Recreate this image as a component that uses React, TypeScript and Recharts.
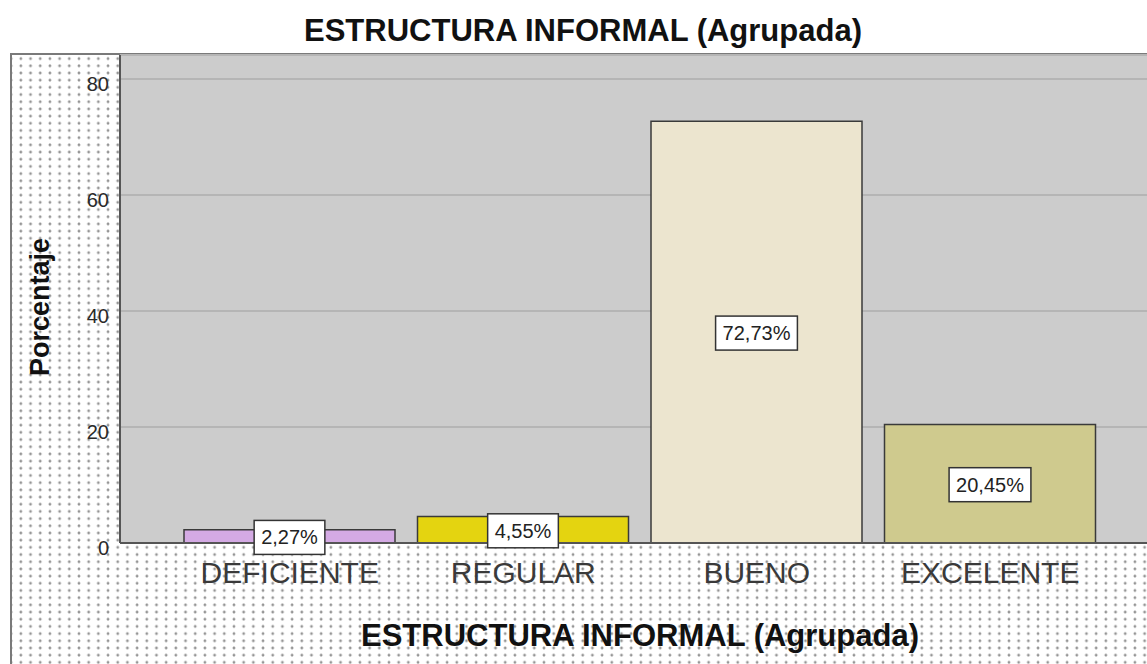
import React from "react";
import { BarChart, Bar, XAxis, YAxis, CartesianGrid, Cell, LabelList } from "recharts";

const categories = ["DEFICIENTE", "REGULAR", "BUENO", "EXCELENTE"];
const percentages = [2.27, 4.55, 72.73, 20.45];
const barColors = ["#d4aae4", "#e4d410", "#ece5cf", "#cfca8e"];
const yTicks = [0, 20, 40, 60, 80];
const chartTitle = "ESTRUCTURA INFORMAL (Agrupada)";
const xTitle = "ESTRUCTURA INFORMAL (Agrupada)";
const yTitle = "Porcentaje";

const fmt = (v: number) => v.toFixed(2).replace(".", ",") + "%";

const data = categories.map((c, i) => ({ name: c, value: percentages[i], label: fmt(percentages[i]) }));

const FONT = "'Liberation Sans', Arial, sans-serif";

const charW = (ch: string) => {
  if (ch === ",") return 0.278;
  if (ch === "%") return 0.889;
  return 0.556;
};

const YTick = (props: any) => {
  const { x, y, payload } = props;
  return (
    <text x={x} y={y} dy={11.5} textAnchor="end" fontSize={20} fill="#2a2a2a" fontFamily={FONT}>
      {payload.value}
    </text>
  );
};

const XTick = (props: any) => {
  const { x, y, payload } = props;
  return (
    <text x={x} y={y} dy={40} textAnchor="middle" fontSize={30} fill="#3a3a3a" fontFamily={FONT}>
      {payload.value}
    </text>
  );
};

const ValueLabel = (props: any) => {
  const { x, y, width, height, value } = props;
  const cx = Number(x) + Number(width) / 2;
  const cy = Number(y) + Number(height) / 2 + 1;
  const txt = String(value);
  const fs = 20;
  const tw = txt.split("").reduce((s, ch) => s + charW(ch), 0) * fs;
  const w = tw + 14;
  const h = 34;
  return (
    <g>
      <rect x={cx - w / 2} y={cy - h / 2} width={w} height={h} fill="#ffffff" stroke="#333" strokeWidth={1.5} />
      <text x={cx} y={cy} dy={7} textAnchor="middle" fontSize={fs} fill="#222" fontFamily={FONT}>
        {txt}
      </text>
    </g>
  );
};

export default function App() {
  return (
    <div
      style={{
        position: "fixed",
        left: 0,
        top: 0,
        width: 1147,
        height: 664,
        overflow: "hidden",
        background: "#ffffff",
        fontFamily: FONT,
      }}
    >
      <div
        style={{
          position: "absolute",
          left: 10,
          top: 53,
          width: 1300,
          height: 700,
          borderLeft: "2px solid #7a7a7a",
          borderTop: "2px solid #7a7a7a",
          backgroundImage: "radial-gradient(circle, #959595 1.1px, rgba(255,255,255,0) 1.7px)",
          backgroundSize: "9.7px 7.2px",
          backgroundPosition: "4px 0px",
        }}
      />
      <div
        style={{
          position: "absolute",
          left: 0,
          top: 15,
          width: 1166,
          textAlign: "center",
          fontSize: 31,
          lineHeight: "31px",
          fontWeight: "bold",
          color: "#111",
        }}
      >
        {chartTitle}
      </div>
      <div style={{ position: "absolute", left: 0, top: 0 }}>
        <BarChart
          width={1200}
          height={664}
          data={data}
          margin={{ top: 55, right: 40, left: 0, bottom: 0 }}
        >
          <CartesianGrid
            vertical={false}
            horizontal={true}
            fill="#cccccc"
            stroke="#b5b5b5"
            strokeWidth={2}
            fillOpacity={1}
          />
          <XAxis
            dataKey="name"
            height={121}
            padding={{ left: 53, right: 53 }}
            tickLine={false}
            tickSize={0}
            tickMargin={0}
            axisLine={{ stroke: "#555", strokeWidth: 2 }}
            tick={<XTick />}
            interval={0}
          />
          <YAxis
            width={120}
            domain={[0, 84.14]}
            ticks={yTicks}
            allowDataOverflow={true}
            tickLine={false}
            tickSize={0}
            tickMargin={11}
            axisLine={{ stroke: "#555", strokeWidth: 2 }}
            tick={<YTick />}
          />
          <Bar dataKey="value" barSize={211} stroke="#3a3a3a" strokeWidth={1.5} isAnimationActive={false}>
            {data.map((d, i) => (
              <Cell key={d.name} fill={barColors[i]} />
            ))}
            <LabelList dataKey="label" content={<ValueLabel />} />
          </Bar>
        </BarChart>
      </div>
      <div
        style={{
          position: "absolute",
          left: 120,
          top: 620,
          width: 1040,
          textAlign: "center",
          fontSize: 31,
          lineHeight: "31px",
          fontWeight: "bold",
          color: "#111",
        }}
      >
        {xTitle}
      </div>
      <div
        style={{
          position: "absolute",
          left: 40,
          top: 307,
          transform: "translate(-50%, -50%) rotate(-90deg)",
          fontSize: 27,
          lineHeight: "27px",
          fontWeight: "bold",
          whiteSpace: "nowrap",
          color: "#111",
        }}
      >
        {yTitle}
      </div>
    </div>
  );
}
